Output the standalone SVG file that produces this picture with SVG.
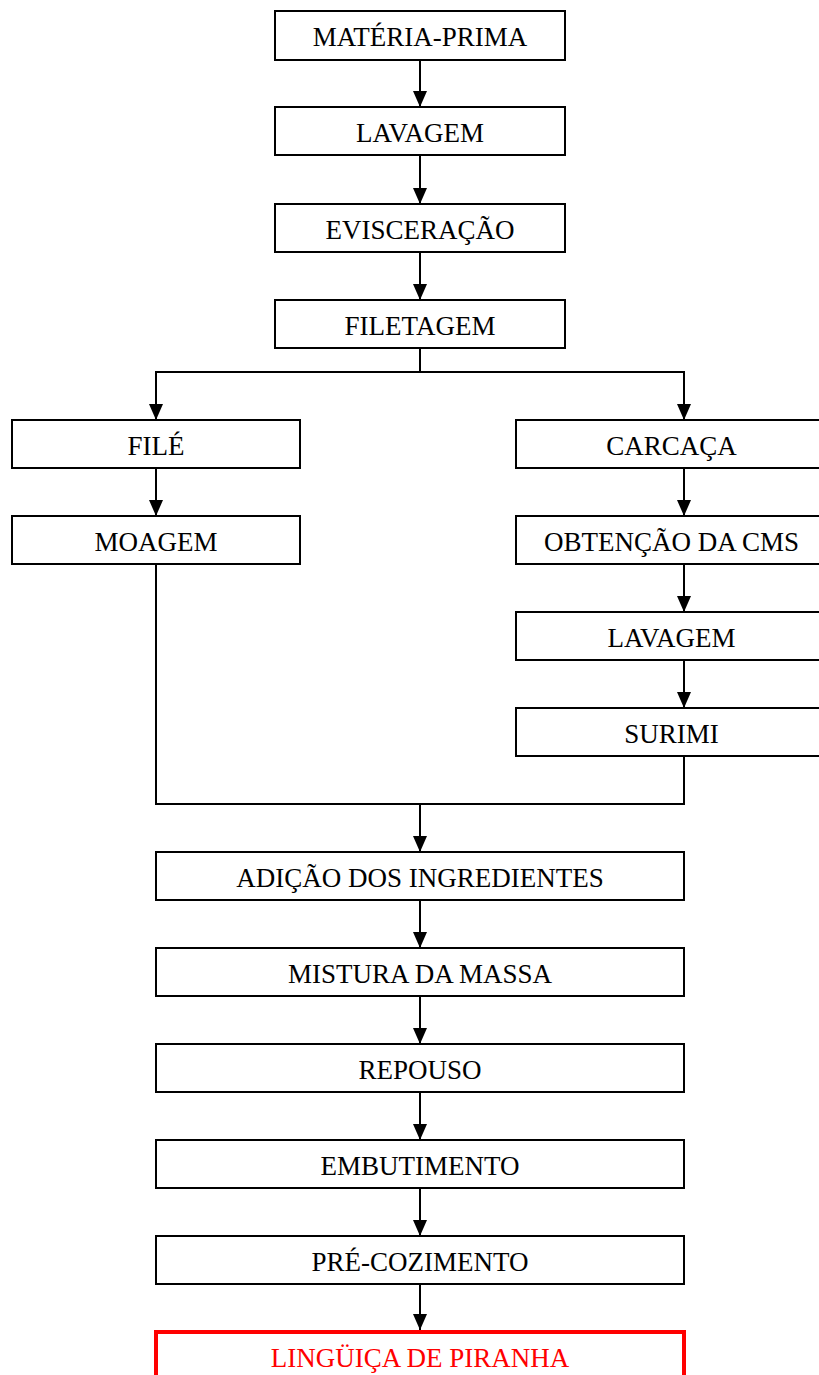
<svg xmlns="http://www.w3.org/2000/svg" width="819" height="1375" viewBox="0 0 819 1375">
<style>
.box{fill:#fff;stroke:#000;stroke-width:2}
.red{fill:#fff;stroke:#ff0000;stroke-width:4}
.t{font-family:"Liberation Serif","Times New Roman",serif;font-size:27px;text-anchor:middle;fill:#000}
.tr{font-family:"Liberation Serif","Times New Roman",serif;font-size:27px;text-anchor:middle;fill:#ff0000}
.c{fill:none;stroke:#000;stroke-width:2}
</style>
<defs>
<marker id="ah" markerUnits="userSpaceOnUse" markerWidth="16" markerHeight="18" refX="16" refY="7" orient="auto">
<path d="M0,0 L16,7 L0,14 Z" fill="#000"/>
</marker>
</defs>
<rect width="819" height="1375" fill="#fff"/>
<g id="connectors">
<line class="c" x1="420" y1="60" x2="420" y2="107" marker-end="url(#ah)"/>
<line class="c" x1="420" y1="155" x2="420" y2="204" marker-end="url(#ah)"/>
<line class="c" x1="420" y1="252" x2="420" y2="300" marker-end="url(#ah)"/>
<polyline class="c" points="420,348 420,372 156,372 156,420" marker-end="url(#ah)"/>
<polyline class="c" points="420,372 684,372 684,420" marker-end="url(#ah)"/>
<line class="c" x1="156" y1="468" x2="156" y2="516" marker-end="url(#ah)"/>
<line class="c" x1="684" y1="468" x2="684" y2="516" marker-end="url(#ah)"/>
<line class="c" x1="684" y1="564" x2="684" y2="612" marker-end="url(#ah)"/>
<line class="c" x1="684" y1="660" x2="684" y2="708" marker-end="url(#ah)"/>
<polyline class="c" points="156,564 156,804 684,804 684,756"/>
<line class="c" x1="420" y1="804" x2="420" y2="852" marker-end="url(#ah)"/>
<line class="c" x1="420" y1="900" x2="420" y2="948" marker-end="url(#ah)"/>
<line class="c" x1="420" y1="996" x2="420" y2="1044" marker-end="url(#ah)"/>
<line class="c" x1="420" y1="1092" x2="420" y2="1140" marker-end="url(#ah)"/>
<line class="c" x1="420" y1="1188" x2="420" y2="1236" marker-end="url(#ah)"/>
<line class="c" x1="420" y1="1284" x2="420" y2="1330" marker-end="url(#ah)"/>
</g>
<g id="n1"><rect class="box" x="275" y="11" width="290" height="49"/><text class="t" x="420" y="46">MATÉRIA-PRIMA</text></g>
<g id="n2"><rect class="box" x="275" y="107" width="290" height="48"/><text class="t" x="420" y="142">LAVAGEM</text></g>
<g id="n3"><rect class="box" x="275" y="204" width="290" height="48"/><text class="t" x="420" y="239">EVISCERAÇÃO</text></g>
<g id="n4"><rect class="box" x="275" y="300" width="290" height="48"/><text class="t" x="420" y="335">FILETAGEM</text></g>
<g id="n5"><rect class="box" x="12" y="420" width="288" height="48"/><text class="t" x="156" y="455">FILÉ</text></g>
<g id="n6"><rect class="box" x="12" y="516" width="288" height="48"/><text class="t" x="156" y="551">MOAGEM</text></g>
<g id="n7"><rect class="box" x="516" y="420" width="311" height="48"/><text class="t" x="671.5" y="455">CARCAÇA</text></g>
<g id="n8"><rect class="box" x="516" y="516" width="311" height="48"/><text class="t" x="671.5" y="551">OBTENÇÃO DA CMS</text></g>
<g id="n9"><rect class="box" x="516" y="612" width="311" height="48"/><text class="t" x="671.5" y="647">LAVAGEM</text></g>
<g id="n10"><rect class="box" x="516" y="708" width="311" height="48"/><text class="t" x="671.5" y="743">SURIMI</text></g>
<g id="n11"><rect class="box" x="156" y="852" width="528" height="48"/><text class="t" x="420" y="887">ADIÇÃO DOS INGREDIENTES</text></g>
<g id="n12"><rect class="box" x="156" y="948" width="528" height="48"/><text class="t" x="420" y="983">MISTURA DA MASSA</text></g>
<g id="n13"><rect class="box" x="156" y="1044" width="528" height="48"/><text class="t" x="420" y="1079">REPOUSO</text></g>
<g id="n14"><rect class="box" x="156" y="1140" width="528" height="48"/><text class="t" x="420" y="1175">EMBUTIMENTO</text></g>
<g id="n15"><rect class="box" x="156" y="1236" width="528" height="48"/><text class="t" x="420" y="1271">PRÉ-COZIMENTO</text></g>
<g id="n16"><rect class="red" x="156" y="1332" width="528" height="60"/><text class="tr" x="420" y="1367">LINGÜIÇA DE PIRANHA</text></g>
</svg>
